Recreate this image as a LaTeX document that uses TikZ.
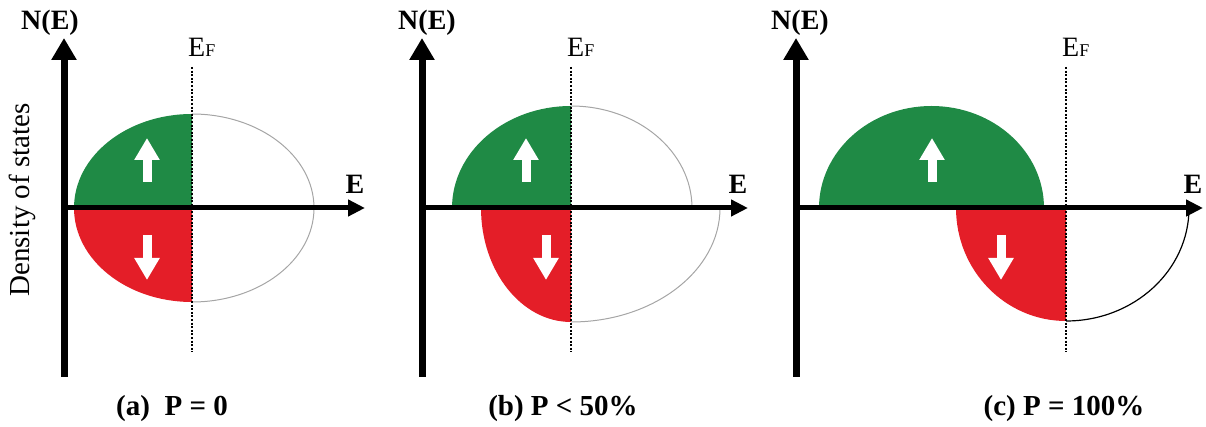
\documentclass[tikz,border=0pt]{standalone}
\usepackage{fontspec}
\setmainfont{Liberation Serif}
\usetikzlibrary{arrows.meta}
\definecolor{upgreen}{RGB}{31,138,69}
\definecolor{downred}{RGB}{228,30,40}
\definecolor{edgegray}{RGB}{165,165,165}

\tikzset{
	axisy/.style={line width=7pt, -{Triangle[length=22pt,width=24pt]}},
	axisx/.style={line width=5pt, -{Triangle[length=17pt,width=16pt]}},
	fermi/.style={line width=2pt, dash pattern=on 2pt off 1.6pt},
	spin/.style={white, line width=9pt, -{Triangle[length=22pt,width=24pt]}},
	outline/.style={edgegray, line width=1pt},
	boldlab/.style={inner sep=0pt, font=\fontsize{28}{28}\selectfont\bfseries},
	plainlab/.style={inner sep=0pt, font=\fontsize{28}{28}\selectfont},
}

\begin{document}
\begin{tikzpicture}[x=1pt, y=1pt]
	\useasboundingbox (0,-219) rectangle (1206,208);
	% (a) both spins fill up to E_F
	\fill[upgreen] (192,0) -- (192,94) arc[start angle=90, end angle=180, x radius=118, y radius=94] -- cycle;
	\fill[downred] (192,0) -- (192,-94) arc[start angle=270, end angle=180, x radius=118, y radius=94] -- cycle;
	\draw[outline] (192,94) arc[start angle=90, end angle=-90, x radius=122, y radius=94];
	% (b) down band shifted up in energy
	\fill[upgreen] (571,0) -- (571,102) arc[start angle=90, end angle=180, x radius=119, y radius=102] -- cycle;
	\draw[outline] (571,102) arc[start angle=90, end angle=0, x radius=121, y radius=102];
	\fill[downred] (571,0) -- (571,-114) arc[start angle=270, end angle=180, x radius=90, y radius=114] -- cycle;
	\draw[outline] (571,-114) arc[start angle=270, end angle=360, x radius=149, y radius=114];
	% (c) up band fully below E_F
	\fill[upgreen] (819,0) arc[start angle=180, end angle=0, x radius=112.5, y radius=102] -- cycle;
	\fill[downred] (1066,0) -- (1066,-113) arc[start angle=270, end angle=180, x radius=110, y radius=113] -- cycle;
	\draw[line width=1.2pt] (1066,-113) arc[start angle=270, end angle=360, x radius=123, y radius=113];

	\foreach \p/\ox/\nx/\tip/\ef/\cx/\cap in {a/64/50/365/192/172/{(a)\ \ P = 0}, b/422/427/748/571/563/{(b) P < 50\%}, c/796/800/1203/1066/1064/{(c) P = 100\%}}{
		\coordinate (\p-o) at (\ox,0);
		\node[plainlab, anchor=base west] (\p-ef) at (\ef-4,151) {E{\fontsize{18}{18}\selectfont F}};
		\draw[fermi] (\ef,141) -- (\ef,-144);
		\draw[axisy] (\ox,-169) -- (\ox,170);
		\draw[axisx] (\p-o) -- (\tip,0);
		\node[boldlab] (\p-n) at (\nx,185) {N(E)};
		\node[boldlab] (\p-e) at (\tip-10,24) {E};
		\node[boldlab, font=\fontsize{29}{29}\selectfont\bfseries] (\p-cap) at (\cx,-201) {\cap};
	}
	\node[plainlab, font=\fontsize{29}{29}\selectfont, rotate=90] (dos) at (22,8) {Density of states};

	% spin arrows
	\foreach \ux/\dx in {147/147, 526/546, 932/1001}{
		\draw[spin] (\ux,26) -- (\ux,70);
		\draw[spin] (\dx,-27) -- (\dx,-72);
	}
\end{tikzpicture}
\end{document}
